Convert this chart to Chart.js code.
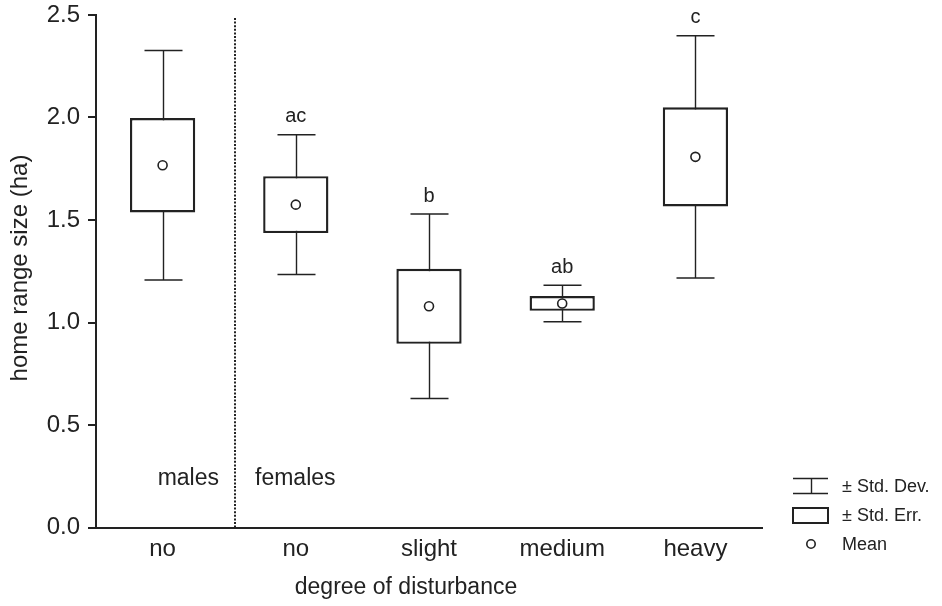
<!DOCTYPE html>
<html>
<head>
<meta charset="utf-8">
<script src="https://cdn.jsdelivr.net/npm/chart.js@4.4.1/dist/chart.umd.min.js"></script>
<style>
  html, body { margin: 0; padding: 0; background: #fff; }
  #wrap { width: 942px; height: 606px; position: relative; }
</style>
</head>
<body>
<div id="wrap"><canvas id="chart"></canvas></div>
<script>
// Home range size by degree of disturbance (males vs. females)
const categories = ['no', 'no', 'slight', 'medium', 'heavy'];
const meanValues = [1.767, 1.575, 1.079, 1.093, 1.808];
const stdDev     = [0.560, 0.341, 0.450, 0.089, 0.591];
const stdErr     = [0.230, 0.139, 0.183, 0.036, 0.242];
const groupLetters = ['', 'ac', 'b', 'ab', 'c'];
const yTicks = [0, 0.5, 1.0, 1.5, 2.0, 2.5];
const sexLabels = ['males', 'females'];
const legendLabels = ['\u00b1 Std. Dev.', '\u00b1 Std. Err.', 'Mean'];
const xTitle = 'degree of disturbance';
const yTitle = 'home range size (ha)';

const INK = '#222';
const FONT = '"Liberation Sans", Arial, Helvetica, sans-serif';
const DIVIDER_INDEX = 0.545;   // sits between the male and female groups

const seBoxes = meanValues.map((m, i) => [m - stdErr[i], m + stdErr[i]]);

// Whiskers (mean ± SD) drawn under the boxes
const whiskerPlugin = {
  id: 'whiskers',
  beforeDatasetsDraw(chart) {
    const { ctx, scales: { x, y } } = chart;
    ctx.save();
    ctx.strokeStyle = INK;
    ctx.lineWidth = 1.4;
    const cap = 19;
    meanValues.forEach((m, i) => {
      const px = Math.round(x.getPixelForValue(i)) + 0.5;
      const top = y.getPixelForValue(m + stdDev[i]);
      const bot = y.getPixelForValue(m - stdDev[i]);
      ctx.beginPath();
      ctx.moveTo(px, top); ctx.lineTo(px, bot);
      ctx.moveTo(px - cap, top); ctx.lineTo(px + cap, top);
      ctx.moveTo(px - cap, bot); ctx.lineTo(px + cap, bot);
      ctx.stroke();
    });
    ctx.restore();
  }
};

// Divider, group letters, sex labels, axis titles and the key
const annotatePlugin = {
  id: 'annotate',
  afterDatasetsDraw(chart) {
    const { ctx, chartArea, scales: { x, y } } = chart;
    ctx.save();
    ctx.fillStyle = INK;
    ctx.strokeStyle = INK;

    // dotted divider between males and females
    const dx = Math.round(x.getPixelForValue(DIVIDER_INDEX));
    ctx.lineWidth = 2;
    ctx.setLineDash([2, 1.6]);
    ctx.beginPath();
    ctx.moveTo(dx, chartArea.top + 3);
    ctx.lineTo(dx, chartArea.bottom);
    ctx.stroke();
    ctx.setLineDash([]);

    // significance letters above the SD whiskers
    ctx.font = '20px ' + FONT;
    ctx.textAlign = 'center';
    ctx.textBaseline = 'middle';
    groupLetters.forEach((t, i) => {
      if (!t) return;
      const px = x.getPixelForValue(i);
      const py = y.getPixelForValue(meanValues[i] + stdDev[i]) - 18;
      ctx.fillText(t, px, py);
    });

    // males / females
    ctx.font = '23px ' + FONT;
    const sy = y.getPixelForValue(0.24);
    ctx.textAlign = 'right';
    ctx.fillText(sexLabels[0], dx - 16, sy);
    ctx.textAlign = 'left';
    ctx.fillText(sexLabels[1], dx + 20, sy);

    // axis titles
    ctx.textAlign = 'center';
    ctx.fillText(xTitle, 406, 588);
    ctx.save();
    ctx.font = '24px ' + FONT;
    ctx.translate(20, 268);
    ctx.rotate(-Math.PI / 2);
    ctx.fillText(yTitle, 0, 0);
    ctx.restore();

    // key
    const kx = 793, kw = 35, kc = kx + kw / 2;
    ctx.lineWidth = 1.4;
    ctx.beginPath();
    ctx.moveTo(kx, 478.5); ctx.lineTo(kx + kw, 478.5);
    ctx.moveTo(kx, 493.5); ctx.lineTo(kx + kw, 493.5);
    ctx.moveTo(Math.round(kc) + 0.5, 478.5); ctx.lineTo(Math.round(kc) + 0.5, 493.5);
    ctx.stroke();
    ctx.lineWidth = 2;
    ctx.strokeRect(kx, 508, kw, 15);
    ctx.lineWidth = 1.6;
    ctx.beginPath();
    ctx.arc(811, 544, 4.2, 0, Math.PI * 2);
    ctx.stroke();
    ctx.font = '18px ' + FONT;
    ctx.textAlign = 'left';
    ctx.fillText(legendLabels[0], 842, 487);
    ctx.fillText(legendLabels[1], 842, 516);
    ctx.fillText(legendLabels[2], 842, 545);

    ctx.restore();
  }
};

new Chart(document.getElementById('chart'), {
  type: 'bar',
  data: {
    labels: categories,
    datasets: [
      {
        type: 'line',
        label: 'Mean',
        data: meanValues,
        showLine: false,
        pointRadius: 4.5,
        pointBorderWidth: 1.6,
        pointBackgroundColor: '#fff',
        pointBorderColor: INK,
        order: 0
      },
      {
        label: '\u00b1 Std. Err.',
        data: seBoxes,
        backgroundColor: '#fff',
        borderColor: INK,
        borderWidth: 2.4,
        borderSkipped: false,
        barPercentage: 0.49,
        categoryPercentage: 1,
        order: 1
      }
    ]
  },
  options: {
    responsive: true,
    maintainAspectRatio: false,
    animation: false,
    events: [],
    layout: { padding: { top: 15, right: 180, bottom: 0, left: 0 } },
    plugins: { legend: { display: false }, tooltip: { enabled: false } },
    scales: {
      x: {
        offset: true,
        grid: { display: false, drawTicks: false },
        border: { display: true, color: INK, width: 2 },
        ticks: { color: INK, font: { family: FONT, size: 24 }, padding: 7, maxRotation: 0 },
        afterFit(scale) { scale.height = 78.5; scale.paddingLeft = 0; scale.paddingRight = 0; }
      },
      y: {
        min: 0,
        max: 2.5,
        afterBuildTicks(scale) { scale.ticks = yTicks.map(v => ({ value: v })); },
        grid: { drawOnChartArea: false, drawTicks: true, tickLength: 8, color: INK, lineWidth: 2 },
        border: { display: true, color: INK, width: 2 },
        ticks: {
          color: INK,
          font: { family: FONT, size: 24 },
          padding: 8,
          callback: v => Number(v).toFixed(1)
        },
        afterFit(scale) { scale.width = 96; scale.paddingTop = 0; scale.paddingBottom = 0; }
      }
    }
  },
  plugins: [whiskerPlugin, annotatePlugin]
});
</script>
</body>
</html>
